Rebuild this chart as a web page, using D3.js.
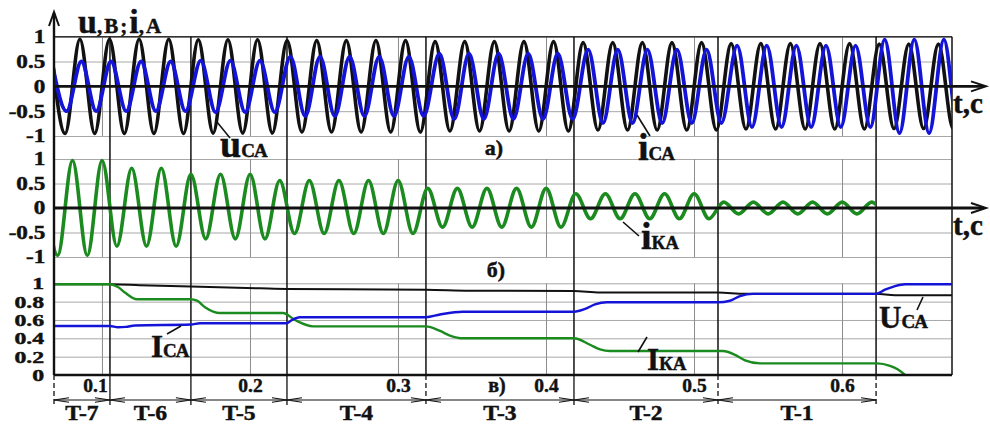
<!DOCTYPE html>
<html>
<head>
<meta charset="utf-8">
<script src="https://cdn.jsdelivr.net/npm/d3@7"></script>
<style>
  body { margin: 0; background: #fff; }
  svg { display: block; }
  text { font-family: "Liberation Serif", "Times New Roman", serif; font-weight: bold; fill: #111;
         stroke: #111; stroke-width: 0.45px; }
</style>
</head>
<body>
<div id="chart"></div>
<script>
// ---- data ----

// time axis (s)
const timeDomain = [0.0676, 0.6743];
const timeTicks = [0.1, 0.2, 0.3, 0.4, 0.5, 0.6];

// borders of the intervals T-7 ... T-1, last entry is the end of the record
const periodBorders = [0.0676, 0.1054, 0.1601, 0.2250, 0.3189, 0.4189, 0.5162, 0.6230, 0.6743];
const periodLabels = ["T-7", "T-6", "T-5", "T-4", "T-3", "T-2", "T-1"];
const dashedBorders = [0.0676, 0.3189, 0.5162, 0.6230];

// 50 Hz waveforms: peak value per interval (8th value = after T-1)
const mainsFreq = 50;
const firstVoltagePeak = 0.0851;
const uCaAmp = [0.95, 0.95, 0.94, 0.92, 0.90, 0.88, 0.86, 0.85];
const iCaAmp = [0.50, 0.50, 0.52, 0.60, 0.66, 0.74, 0.82, 0.94];
const iCaLagDeg = [18, 24, 30, 40, 52, 61, 73, 67];
const iKaPeak = [0.97, 0.81, 0.69, 0.56, 0.40, 0.29, 0.12, 0.12];
const iKaTrough = [-0.97, -0.78, -0.63, -0.52, -0.39, -0.22, -0.12, -0.12];
const iKaLeadDeg = 90;

// rms values, panel в) : [t, value]
const uCaRms = [[0.0676, 0.99], [0.1054, 0.99], [0.1257, 0.98], [0.1601, 0.965], [0.2068, 0.945],
  [0.2250, 0.938], [0.3189, 0.93], [0.3486, 0.92], [0.4189, 0.915], [0.4365, 0.90], [0.5162, 0.90],
  [0.5345, 0.885], [0.6230, 0.885], [0.6358, 0.87], [0.6743, 0.87]];
const iCaRms = [[0.0676, 0.535], [0.1054, 0.535], [0.1108, 0.52], [0.1162, 0.525], [0.1223, 0.54],
  [0.1601, 0.55], [0.1662, 0.565], [0.2250, 0.565], [0.2284, 0.60], [0.2338, 0.63], [0.3189, 0.63],
  [0.3284, 0.66], [0.3439, 0.69], [0.4189, 0.69], [0.4264, 0.72], [0.4331, 0.77], [0.4412, 0.793],
  [0.5162, 0.793], [0.5243, 0.81], [0.5311, 0.86], [0.5399, 0.885], [0.6230, 0.885], [0.6290, 0.93],
  [0.6358, 0.97], [0.6426, 0.99], [0.6743, 0.99]];
const iKaRms = [[0.0676, 0.99], [0.1054, 0.99], [0.1108, 0.96], [0.1155, 0.90], [0.1236, 0.826],
  [0.1595, 0.826], [0.1642, 0.81], [0.1696, 0.74], [0.1797, 0.676], [0.2223, 0.676], [0.2304, 0.60],
  [0.2426, 0.53], [0.3189, 0.53], [0.3284, 0.48], [0.3351, 0.43], [0.3439, 0.40], [0.4189, 0.40],
  [0.4297, 0.33], [0.4365, 0.28], [0.4432, 0.262], [0.5196, 0.262], [0.5277, 0.22], [0.5345, 0.16],
  [0.5446, 0.127], [0.6237, 0.127], [0.6324, 0.10], [0.6378, 0.06], [0.6426, 0.0]];

const waveTicks = [1, 0.5, 0, -0.5, -1];
const rmsTicks = [1, 0.8, 0.6, 0.4, 0.2, 0];

const colors = { u: "#111111", iCa: "#1414d8", iKa: "#1b8a1f", grid: "#a8a8a8" };

// ---- layout ----
const W = 990, H = 424;
const svg = d3.select("#chart").append("svg").attr("width", W).attr("height", H);

const x = d3.scaleLinear().domain(timeDomain).range([54, 952]);
const yTop = d3.scaleLinear().domain([-1, 1]).range([136, 36.7]);
const yMid = d3.scaleLinear().domain([-1, 1]).range([257, 159]);
const yBot = d3.scaleLinear().domain([0, 1]).range([375, 283.3]);
const x0 = x.range()[0], x1 = x.range()[1];

function segIndex(t, n) {
    let i = d3.bisectRight(periodBorders, t) - 1;
    return Math.max(0, Math.min(n - 1, i));
}

// peaks and troughs of a 50 Hz wave, one per half period
function extremes(pos, neg, shiftDeg, tStop) {
    const half = 0.5 / mainsFreq;
    const pts = [];
    for (let k = -2; ; k++) {
        const tNom = firstVoltagePeak + k * half;
        const s = segIndex(tNom, pos.length);
        const shift = (Array.isArray(shiftDeg) ? shiftDeg[s] : shiftDeg) / 360 / mainsFreq;
        const t = tNom + shift;
        pts.push({ t: t, v: k % 2 === 0 ? pos[s] : neg[s] });
        if (t > tStop + half) break;
    }
    return pts;
}

const defs = svg.append("defs");
function clip(id, xa, xb) {
    defs.append("clipPath").attr("id", id).append("rect")
        .attr("x", xa).attr("y", 0).attr("width", xb - xa).attr("height", H);
}
clip("clipAll", x0, x1);
clip("clipKa", x0, x(periodBorders[7]));

// ---- grids ----
const grid = svg.append("g");

function hGrid(scale, ticks) {
    grid.append("g")
        .attr("transform", `translate(${x0},0)`)
        .call(d3.axisLeft(scale).tickValues(ticks).tickSize(-(x1 - x0)).tickFormat(""))
        .call(g => g.select(".domain").remove())
        .call(g => g.selectAll("line").attr("stroke", colors.grid).attr("stroke-width", 1));
}
hGrid(yTop, [1, 0.5, -0.5, -1]);
hGrid(yMid, [1, 0.5, -0.5, -1]);
hGrid(yBot, [1, 0.8, 0.6, 0.4, 0.2]);

function vGrid(scale) {
    const r = scale.range();
    grid.append("g")
        .attr("transform", `translate(0,${r[0]})`)
        .call(d3.axisBottom(x).tickValues(timeTicks).tickSize(-(r[0] - r[1])).tickFormat(""))
        .call(g => g.select(".domain").remove())
        .call(g => g.selectAll("line").attr("stroke", "#8c8c8c").attr("stroke-width", 1));
}
vGrid(yTop);
vGrid(yMid);
vGrid(yBot);

// frame lines
grid.append("line").attr("x1", x0).attr("x2", x1).attr("y1", yTop(1)).attr("y2", yTop(1))
    .attr("stroke", "#333").attr("stroke-width", 1.5);
grid.append("line").attr("x1", x1).attr("x2", x1).attr("y1", yTop(1)).attr("y2", yBot(0))
    .attr("stroke", "#111").attr("stroke-width", 1.5);

// interval borders
const inner = periodBorders.slice(0, 8);
grid.selectAll(".border").data(inner.slice(1)).enter().append("line")
    .attr("x1", d => x(d)).attr("x2", d => x(d))
    .attr("y1", yTop(1)).attr("y2", yBot(0))
    .attr("stroke", "#111").attr("stroke-width", 1.5);
grid.selectAll(".drop").data(inner).enter().append("line")
    .attr("x1", d => x(d)).attr("x2", d => x(d))
    .attr("y1", yBot(0)).attr("y2", 405)
    .attr("stroke", "#111").attr("stroke-width", 1.3)
    .attr("stroke-dasharray", d => dashedBorders.includes(d) ? "5,3" : null);

// ---- waves ----
const waveLine = (ys) => d3.line().x(d => x(d.t)).y(d => ys(d.v)).curve(d3.curveMonotoneX);
const tEnd = timeDomain[1];

const waves = svg.append("g").attr("clip-path", "url(#clipAll)");
waves.append("path")
    .datum(extremes(uCaAmp, uCaAmp.map(a => -a), 0, tEnd))
    .attr("d", waveLine(yTop)).attr("fill", "none")
    .attr("stroke", colors.u).attr("stroke-width", 3.6);
waves.append("path")
    .datum(extremes(iCaAmp, iCaAmp.map(a => -a), iCaLagDeg, tEnd))
    .attr("d", waveLine(yTop)).attr("fill", "none")
    .attr("stroke", colors.iCa).attr("stroke-width", 3.8);

svg.append("g").attr("clip-path", "url(#clipKa)").append("path")
    .datum(extremes(iKaPeak, iKaTrough, -iKaLeadDeg, periodBorders[7]))
    .attr("d", waveLine(yMid)).attr("fill", "none")
    .attr("stroke", colors.iKa).attr("stroke-width", 3.6);

// ---- rms lines ----
const rmsLine = d3.line().x(d => x(d[0])).y(d => yBot(d[1])).curve(d3.curveMonotoneX);
const rms = svg.append("g");
rms.append("path").datum(uCaRms).attr("d", rmsLine).attr("fill", "none")
    .attr("stroke", colors.u).attr("stroke-width", 2);
rms.append("path").datum(iKaRms).attr("d", rmsLine).attr("fill", "none")
    .attr("stroke", colors.iKa).attr("stroke-width", 2.4);
rms.append("path").datum(iCaRms).attr("d", rmsLine).attr("fill", "none")
    .attr("stroke", colors.iCa).attr("stroke-width", 2.4);

// ---- axes ----
const axes = svg.append("g");

function yAxis(scale, ticks, size, sx) {
    axes.append("g")
        .attr("transform", `translate(${x0},0)`)
        .call(d3.axisLeft(scale).tickValues(ticks).tickSize(0).tickPadding(7).tickFormat(d => String(d)))
        .call(g => g.select(".domain").remove())
        .call(g => g.selectAll("text")
            .style("font-size", size + "px")
            .attr("fill", "#111")
            .attr("transform", `scale(${sx},1)`));
}
yAxis(yTop, waveTicks, 18.5, 1.25);
yAxis(yMid, waveTicks, 18.5, 1.25);
yAxis(yBot, rmsTicks, 17, 1.4);

// time labels under panel в)
axes.append("g")
    .attr("transform", `translate(0,${yBot(0)})`)
    .call(d3.axisBottom(x).tickValues(timeTicks).tickSize(0).tickPadding(3).tickFormat(d3.format(".1f")))
    .call(g => g.select(".domain").remove())
    .call(g => g.selectAll("text").style("font-size", "19.5px").attr("fill", "#111")
        .attr("dx", d => d === 0.1 ? -7 : 0));

// zero axes with arrows, left axis
[yTop, yMid].forEach(s => {
    axes.append("line").attr("x1", x0).attr("x2", 984).attr("y1", s(0)).attr("y2", s(0))
        .attr("stroke", "#111").attr("stroke-width", 2.8);
    axes.append("path")
        .attr("d", `M971,${s(0) - 5}L986,${s(0)}L971,${s(0) + 5}`)
        .attr("fill", "none").attr("stroke", "#111").attr("stroke-width", 2);
});
axes.append("line").attr("x1", x0).attr("x2", x1).attr("y1", yBot(0)).attr("y2", yBot(0))
    .attr("stroke", "#111").attr("stroke-width", 2.6);
axes.append("line").attr("x1", x0).attr("x2", x0).attr("y1", 13).attr("y2", yBot(0))
    .attr("stroke", "#111").attr("stroke-width", 2.4);
axes.append("path").attr("d", `M${x0 - 5},26L${x0},12L${x0 + 5},26`)
    .attr("fill", "none").attr("stroke", "#111").attr("stroke-width", 2);

// ---- interval dimension line ----
const dimY = 400;
const dim = svg.append("g");
dim.append("line").attr("x1", x0).attr("x2", x(periodBorders[7])).attr("y1", dimY).attr("y2", dimY)
    .attr("stroke", "#111").attr("stroke-width", 1.2);
inner.forEach((b, i) => {
    const bx = x(b);
    if (i > 0) dim.append("path").attr("d", `M${bx - 15},${dimY - 2.2}L${bx},${dimY}L${bx - 15},${dimY + 2.2}`)
        .attr("fill", "none").attr("stroke", "#111").attr("stroke-width", 1.1);
    if (i < 7) dim.append("path").attr("d", `M${bx + 15},${dimY - 2.2}L${bx},${dimY}L${bx + 15},${dimY + 2.2}`)
        .attr("fill", "none").attr("stroke", "#111").attr("stroke-width", 1.1);
});
dim.selectAll(".tl").data(periodLabels).enter().append("text")
    .attr("transform", (d, i) => `translate(${x((periodBorders[i] + periodBorders[i + 1]) / 2)},420) scale(1.18,1)`)
    .attr("text-anchor", "middle").style("font-size", "20px")
    .text(d => d);

// ---- annotations ----
const ann = svg.append("g");

function leader(xa, ya, xb, yb) {
    ann.append("line").attr("x1", xa).attr("y1", ya).attr("x2", xb).attr("y2", yb)
        .attr("stroke", "#111").attr("stroke-width", 1.6);
}
function subLabel(px, py, main, sub, mainSize, subSize) {
    const t = ann.append("text").attr("x", px).attr("y", py);
    t.append("tspan").style("font-size", mainSize + "px").text(main);
    t.append("tspan").style("font-size", subSize + "px").text(sub);
}

// axis names
const title = ann.append("text").attr("x", 78).attr("y", 33);
title.append("tspan").style("font-size", "34px").text("u");
title.append("tspan").style("font-size", "21px").style("letter-spacing", "2px").text(",В;");
title.append("tspan").style("font-size", "34px").text("i");
title.append("tspan").style("font-size", "21px").style("letter-spacing", "2px").text(",А");

[yTop, yMid].forEach(s => {
    ann.append("text").attr("x", 953).attr("y", s(0) + 27).style("font-size", "29px").text("t,с");
});

subLabel(220, 157, "u", "СА", 38, 19);
leader(217, 122, 230, 138);
subLabel(638, 160, "i", "СА", 38, 19);
leader(637, 115, 650, 136);
subLabel(641, 249, "i", "КА", 38, 19);
leader(623, 222, 639, 236);

subLabel(151, 357, "I", "СА", 31, 19);
leader(167, 334, 181, 326);
subLabel(647, 370, "I", "КА", 31, 19);
leader(638, 352, 647, 337);
subLabel(879, 328, "U", "СА", 31, 19);
leader(917, 310, 923, 297);

ann.append("text").attr("x", 494).attr("y", 155).attr("text-anchor", "middle").style("font-size", "22px").text("а)");
ann.append("text").attr("x", 496).attr("y", 277).attr("text-anchor", "middle").style("font-size", "22px").text("б)");
ann.append("text").attr("x", 497).attr("y", 392).attr("text-anchor", "middle").style("font-size", "20px").text("в)");
</script>
</body>
</html>
